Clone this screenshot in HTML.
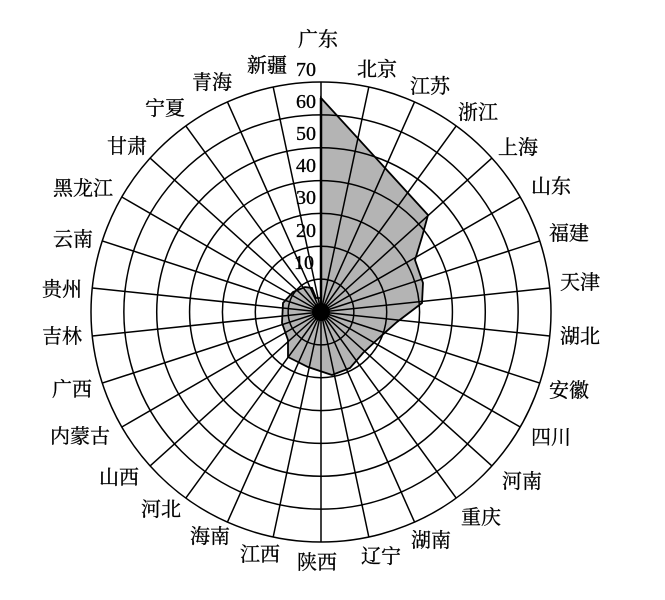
<!DOCTYPE html>
<html><head><meta charset="utf-8">
<style>
html,body{margin:0;padding:0;background:#fff;}
svg{display:block;}
.l{font-family:"Liberation Serif","Noto Serif CJK SC",serif;font-size:20px;fill:#000;text-anchor:middle;dominant-baseline:central;stroke:#000;stroke-width:0.3;}
.t{font-family:"Liberation Serif",serif;font-size:20px;fill:#000;text-anchor:end;dominant-baseline:central;stroke:#000;stroke-width:0.3;}
</style></head>
<body>
<svg id="s" width="665" height="600" viewBox="0 0 665 600" xmlns="http://www.w3.org/2000/svg">
<polygon points="321,98 428,215 422,237 415,260 423,283 422,303 397,322 380,337 363,353 350,368 332,375 308,367 288,357 288,340 282,323 283,303 293,292 305,287 312,288 316,298 321,298" fill="#b4b4b4"/>
<g id="grid" stroke="#000" stroke-width="1.5" fill="none"></g>
<polygon points="321,98 428,215 422,237 415,260 423,283 422,303 397,322 380,337 363,353 350,368 332,375 308,367 288,357 288,340 282,323 283,303 293,292 305,287 312,288 316,298 321,298" fill="none" stroke="#000" stroke-width="1.8"/>
<line x1="321" y1="98" x2="321" y2="312" stroke="#000" stroke-width="2.5"/>
<circle cx="321" cy="312" r="9" fill="#000"/>
<text class="t" x="316" y="70">70</text>
<text class="t" x="316" y="102">60</text>
<text class="t" x="316" y="134">50</text>
<text class="t" x="316" y="166">40</text>
<text class="t" x="316" y="198">30</text>
<text class="t" x="316" y="231">20</text>
<text class="t" x="314" y="263">10</text>
<text class="l" x="318" y="40">广东</text>
<text class="l" x="377" y="70">北京</text>
<text class="l" x="430" y="87">江苏</text>
<text class="l" x="478" y="113">浙江</text>
<text class="l" x="518" y="148">上海</text>
<text class="l" x="551" y="187">山东</text>
<text class="l" x="569" y="234">福建</text>
<text class="l" x="580" y="283">天津</text>
<text class="l" x="580" y="337">湖北</text>
<text class="l" x="569" y="391">安徽</text>
<text class="l" x="551" y="438">四川</text>
<text class="l" x="522" y="482">河南</text>
<text class="l" x="481" y="518">重庆</text>
<text class="l" x="431" y="541">湖南</text>
<text class="l" x="381" y="557">辽宁</text>
<text class="l" x="317" y="563">陕西</text>
<text class="l" x="260" y="555">江西</text>
<text class="l" x="210" y="537">海南</text>
<text class="l" x="161" y="510">河北</text>
<text class="l" x="119" y="478">山西</text>
<text class="l" x="80" y="437">内蒙古</text>
<text class="l" x="72" y="390">广西</text>
<text class="l" x="62" y="337">吉林</text>
<text class="l" x="62" y="290">贵州</text>
<text class="l" x="73" y="240">云南</text>
<text class="l" x="83" y="189">黑龙江</text>
<text class="l" x="127" y="147">甘肃</text>
<text class="l" x="165" y="109">宁夏</text>
<text class="l" x="212" y="83">青海</text>
<text class="l" x="267" y="66">新疆</text>
</svg>
<script>
(function(){
var g=document.getElementById('grid'),ns='http://www.w3.org/2000/svg',cx=321,cy=312,R=230;
for(var k=1;k<=7;k++){var c=document.createElementNS(ns,'circle');c.setAttribute('cx',cx);c.setAttribute('cy',cy);c.setAttribute('r',R*k/7);g.appendChild(c);}
for(var i=0;i<30;i++){var a=i*12*Math.PI/180,l=document.createElementNS(ns,'line');
l.setAttribute('x1',cx);l.setAttribute('y1',cy);l.setAttribute('x2',cx+R*Math.sin(a));l.setAttribute('y2',cy-R*Math.cos(a));g.appendChild(l);}
})();
</script>
</body></html>
